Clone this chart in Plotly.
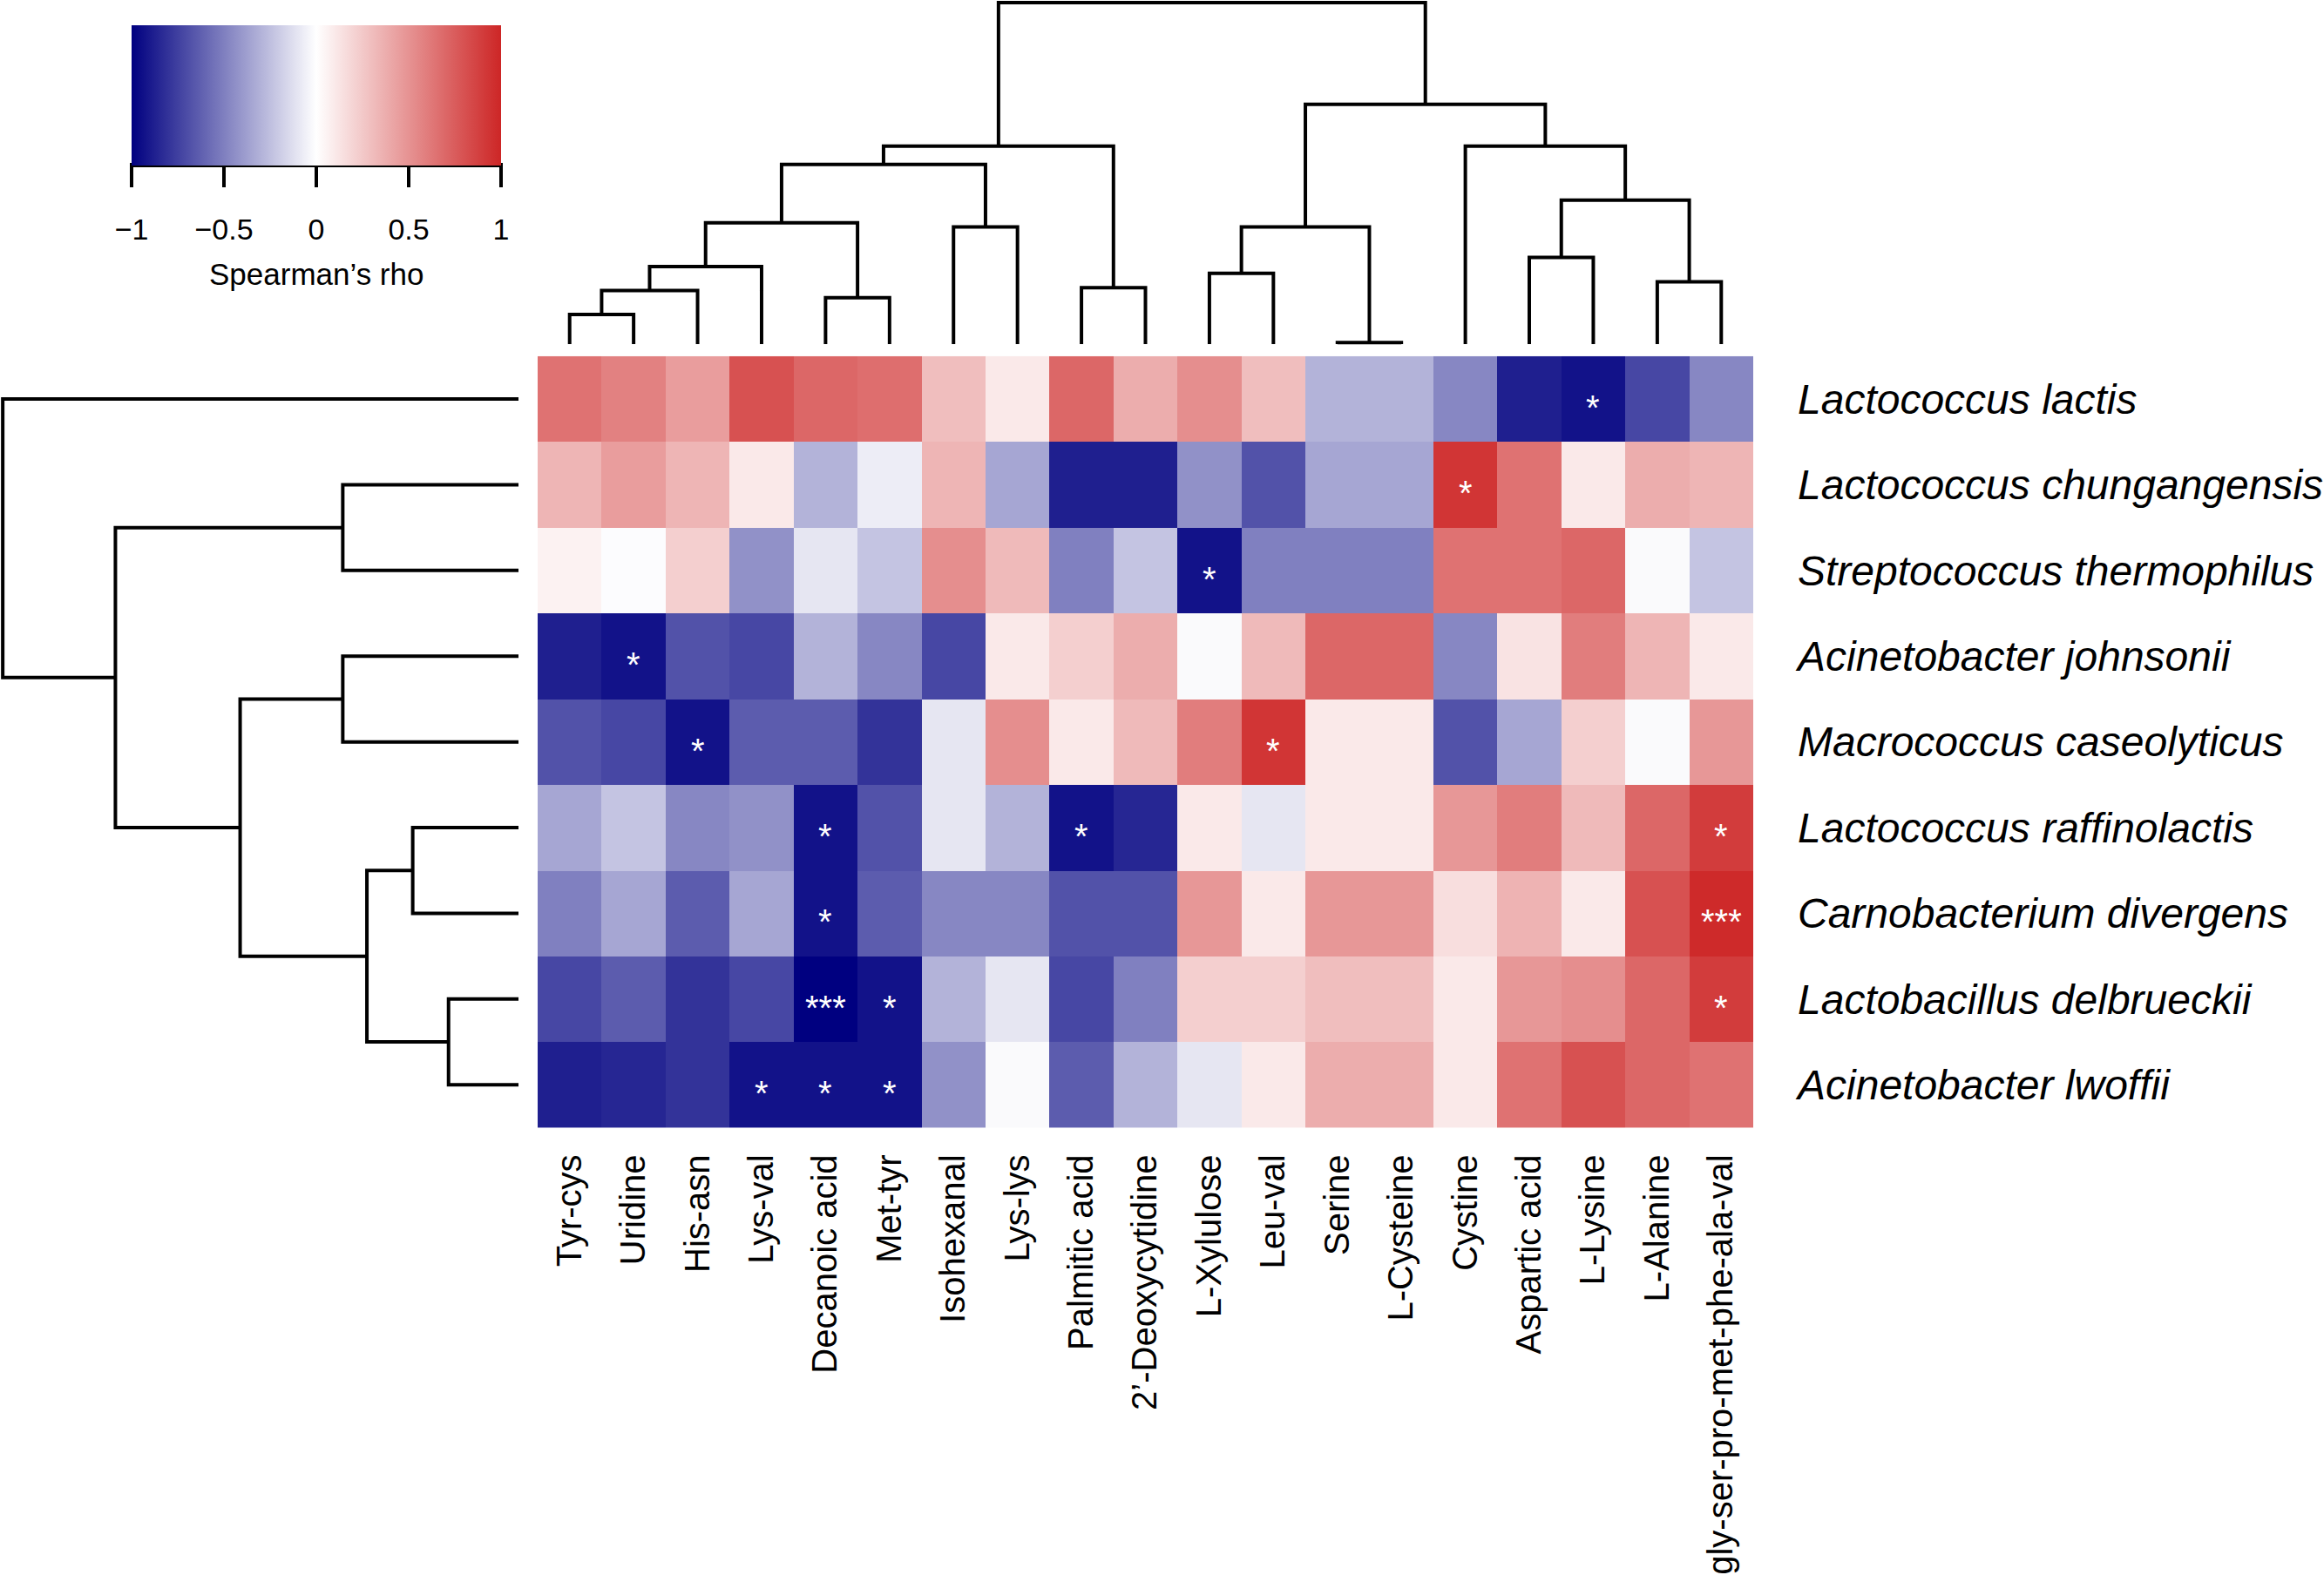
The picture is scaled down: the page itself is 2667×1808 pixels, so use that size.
import plotly.graph_objects as go

# ---------------- data ----------------
columns = ["Tyr-cys", "Uridine", "His-asn", "Lys-val", "Decanoic acid", "Met-tyr",
           "Isohexanal", "Lys-lys", "Palmitic acid", "2’-Deoxycytidine", "L-Xylulose",
           "Leu-val", "Serine", "L-Cysteine", "Cystine", "Aspartic acid", "L-Lysine",
           "L-Alanine", "gly-ser-pro-met-phe-ala-val"]

rows = ["Lactococcus lactis", "Lactococcus chungangensis", "Streptococcus thermophilus",
        "Acinetobacter johnsonii", "Macrococcus caseolyticus", "Lactococcus raffinolactis",
        "Carnobacterium divergens", "Lactobacillus delbrueckii", "Acinetobacter lwoffii"]

rho = [
    [0.65, 0.58, 0.45, 0.80, 0.70, 0.67, 0.30, 0.10, 0.70, 0.38, 0.52, 0.30, -0.30, -0.30, -0.47, -0.88, -0.93, -0.72, -0.47],
    [0.34, 0.45, 0.34, 0.10, -0.30, -0.07, 0.34, -0.35, -0.88, -0.88, -0.43, -0.68, -0.35, -0.35, 0.93, 0.65, 0.10, 0.38, 0.34],
    [0.06, -0.01, 0.22, -0.43, -0.10, -0.23, 0.52, 0.32, -0.50, -0.23, -0.93, -0.50, -0.50, -0.50, 0.65, 0.65, 0.70, -0.02, -0.23],
    [-0.88, -0.93, -0.68, -0.72, -0.30, -0.47, -0.72, 0.10, 0.22, 0.38, -0.02, 0.32, 0.70, 0.70, -0.47, 0.13, 0.60, 0.34, 0.10],
    [-0.68, -0.72, -0.93, -0.64, -0.64, -0.80, -0.10, 0.52, 0.10, 0.32, 0.60, 0.93, 0.10, 0.10, -0.68, -0.35, 0.22, -0.02, 0.48],
    [-0.35, -0.23, -0.47, -0.43, -0.93, -0.68, -0.10, -0.30, -0.93, -0.85, 0.10, -0.10, 0.10, 0.10, 0.48, 0.60, 0.32, 0.70, 0.90],
    [-0.50, -0.35, -0.64, -0.35, -0.93, -0.64, -0.47, -0.47, -0.68, -0.68, 0.48, 0.10, 0.48, 0.48, 0.15, 0.35, 0.10, 0.80, 0.98],
    [-0.72, -0.64, -0.80, -0.72, -1.00, -0.93, -0.30, -0.10, -0.72, -0.50, 0.22, 0.22, 0.30, 0.30, 0.10, 0.48, 0.52, 0.70, 0.90],
    [-0.88, -0.85, -0.80, -0.93, -0.93, -0.93, -0.43, -0.02, -0.64, -0.30, -0.10, 0.10, 0.38, 0.38, 0.10, 0.65, 0.80, 0.70, 0.65],
]

# significance marks (row index, column index, label)
star_rows = [0, 1, 2, 3, 4, 4, 5, 5, 5, 6, 6, 7, 7, 7, 8, 8, 8]
star_cols = [16, 14, 10, 1, 2, 11, 4, 8, 18, 4, 18, 4, 5, 18, 3, 4, 5]
star_text = ["*", "*", "*", "*", "*", "*", "*", "*", "*", "*", "***", "***", "*", "*", "*", "*", "*"]

# column dendrogram (R hclust style: negative = leaf (1-based), positive = earlier merge)
col_merge = [(-13, -14), (-1, -2), (-5, -6), (2, -3), (-9, -10), (-18, -19), (-11, -12),
             (4, -4), (-16, -17), (-7, -8), (7, 1), (8, 3), (9, 6), (12, 10), (14, 5),
             (-15, 13), (11, 16), (15, 17)]
col_height = [5, 102, 160, 185, 195, 215, 245, 268, 300, 405, 405, 420, 498, 622, 685,
              685, 830, 1182]

# row dendrogram
row_merge = [(-8, -9), (-6, -7), (2, 1), (-2, -3), (-4, -5), (5, 3), (4, 6), (-1, 7)]
row_height = [203, 307, 440, 510, 510, 808, 1170, 1497]

cbar_ticks = [-1, -0.5, 0, 0.5, 1]
cbar_labels = ["−1", "−0.5", "0", "0.5", "1"]
cbar_title = "Spearman’s rho"

# ---------------- helpers ----------------
def dendro_segments(merges, heights):
    pos = {}
    a_list, h_list = [], []
    for k, ((a, b), h) in enumerate(zip(merges, heights), start=1):
        def get(c):
            if c < 0:
                return (-c - 1, 0.0)
            return pos[c]
        (ca, ha), (cb, hb) = get(a), get(b)
        a_list += [ca, ca, cb, cb, None]
        h_list += [ha, h, h, hb, None]
        pos[k] = ((ca + cb) / 2.0, h)
    return a_list, h_list

W, H = 2667, 1808
FONT = "Liberation Sans, Arial, Helvetica, sans-serif"

hm_x0, hm_x1 = 617, 2012
hm_y0, hm_y1 = 410, 1298

cb_x0, cb_x1 = 151, 575
cb_y0, cb_y1 = 29, 190

fig = go.Figure()

fig.add_trace(go.Heatmap(
    z=rho, x=list(range(len(columns))), y=list(range(len(rows))),
    zmin=-1, zmax=1,
    colorscale=[[0, "rgb(0,0,128)"], [0.5, "rgb(255,255,255)"], [1, "rgb(205,38,38)"]],
    hoverinfo="skip",
    colorbar=dict(
        orientation="h", x=(cb_x0 + cb_x1) / 2 / W, xanchor="center",
        y=1 - cb_y0 / H, yanchor="top", len=cb_x1 - cb_x0, lenmode="pixels",
        thickness=cb_y1 - cb_y0, thicknessmode="pixels", outlinewidth=0,
        xpad=0, ypad=0,
        tickmode="array", tickvals=cbar_ticks,
        ticktext=["<span style='font-size:34px'>%s</span>" % t for t in cbar_labels],
        ticks="outside", ticklen=25, tickwidth=4, tickcolor="black",
        tickfont=dict(size=50, family=FONT, color="black"),
    ),
    xaxis="x", yaxis="y",
))

cx, cy = dendro_segments(col_merge, col_height)
fig.add_trace(go.Scatter(x=cx, y=cy, mode="lines", line=dict(color="black", width=4),
                         xaxis="x2", yaxis="y2", hoverinfo="skip", showlegend=False))

rx, ry = dendro_segments(row_merge, row_height)
fig.add_trace(go.Scatter(x=ry, y=rx, mode="lines", line=dict(color="black", width=4),
                         xaxis="x3", yaxis="y3", hoverinfo="skip", showlegend=False))

annotations = []
for r, c, t in zip(star_rows, star_cols, star_text):
    annotations.append(dict(x=c, y=r, xref="x", yref="y", text=t, showarrow=False,
                            font=dict(size=40, family=FONT, color="white"), yshift=-10))
# colour key title
annotations.append(dict(x=(cb_x0 + cb_x1) / 2 / W, y=1 - 315 / H, xref="paper", yref="paper",
                        text=cbar_title, showarrow=False, xanchor="center", yanchor="middle",
                        font=dict(size=35, family=FONT, color="black")))

# col dendrogram scale: 0 -> 396px, 1182 -> 3px
scale = (396 - 3) / 1182.0
d_lo, d_hi = -10, 1190
d_top_px = 3 - (d_hi - 1182) * scale
d_bot_px = 396 + (0 - d_lo) * scale

fig.update_layout(
    width=W, height=H, margin=dict(l=0, r=0, t=0, b=0),
    paper_bgcolor="white", plot_bgcolor="white", showlegend=False,
    font=dict(family=FONT, color="black"),
    xaxis=dict(domain=[hm_x0 / W, hm_x1 / W], range=[-0.5, len(columns) - 0.5],
               tickmode="array", tickvals=list(range(len(columns))), ticktext=columns,
               tickangle=-90, ticks="", showgrid=False, zeroline=False, showline=False,
               tickfont=dict(size=40, family=FONT, color="black"),
               ticklabelstandoff=22, anchor="y"),
    yaxis=dict(domain=[1 - hm_y1 / H, 1 - hm_y0 / H], range=[len(rows) - 0.5, -0.5],
               side="right", tickmode="array", tickvals=list(range(len(rows))), ticktext=rows,
               ticks="", showgrid=False, zeroline=False, showline=False,
               tickfont=dict(size=48, family=FONT, color="black", style="italic"),
               ticklabelstandoff=50, anchor="x"),
    xaxis2=dict(domain=[hm_x0 / W, hm_x1 / W], range=[-0.5, len(columns) - 0.5],
                visible=False, anchor="y2"),
    yaxis2=dict(domain=[1 - d_bot_px / H, 1 - d_top_px / H], range=[d_lo, d_hi],
                visible=False, anchor="x2"),
    xaxis3=dict(domain=[0, 595 / W], range=[1505, 0], visible=False, anchor="y3"),
    yaxis3=dict(domain=[1 - hm_y1 / H, 1 - hm_y0 / H], range=[len(rows) - 0.5, -0.5],
                visible=False, anchor="x3"),
    annotations=annotations,
    shapes=[dict(type="line", xref="paper", yref="paper", x0=(cb_x0 - 2) / W, x1=(cb_x1 + 2) / W,
                 y0=1 - cb_y1 / H, y1=1 - cb_y1 / H, line=dict(color="black", width=5))],
)

fig.write_html("out.html", config={"displayModeBar": False},
               post_script="document.body.style.margin='0px';document.body.style.overflow='hidden';")
